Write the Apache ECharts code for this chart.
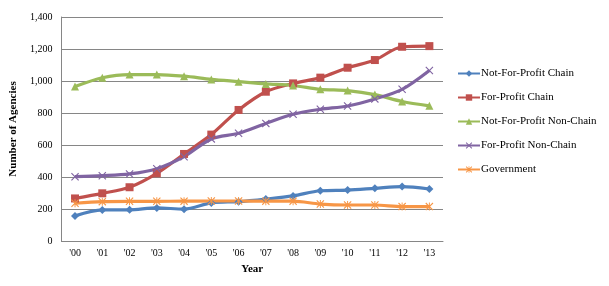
<!DOCTYPE html>
<html>
<head>
<meta charset="utf-8">
<script src="https://cdn.jsdelivr.net/npm/echarts@6/dist/echarts.min.js"></script>
<style>
  html, body { margin: 0; padding: 0; background: #fff; }
  #chart { width: 609px; height: 286px; }
</style>
</head>
<body>
<div id="chart"></div>
<script>
// years on the x axis
var years = ["'00", "'01", "'02", "'03", "'04", "'05", "'06", "'07", "'08", "'09", "'10", "'11", "'12", "'13"];

// agency counts
var nfpChain    = [157, 194, 195, 207, 199, 238, 246, 262, 282, 314, 318, 329, 340, 325];
var fpChain     = [266, 298, 336, 423, 544, 665, 819, 933, 985, 1021, 1083, 1131, 1214, 1218];
var nfpNonChain = [965, 1020, 1040, 1040, 1030, 1010, 996, 982, 972, 948, 940, 915, 872, 845];
var fpNonChain  = [402, 408, 419, 452, 527, 638, 673, 735, 792, 823, 844, 888, 948, 1066];
var government  = [236, 246, 248, 248, 249, 250, 250, 249, 249, 231, 225, 225, 215, 215];

var xMark = 'path://M0,1 L1,0 L5,4 L9,0 L10,1 L6,5 L10,9 L9,10 L5,6 L1,10 L0,9 L4,5 Z';
var starMark = 'path://M0,1 L1,0 L5,4 L9,0 L10,1 L6,5 L10,9 L9,10 L5,6 L1,10 L0,9 L4,5 Z M4.4,0 L5.6,0 L5.6,10 L4.4,10 Z';

function mkSeries(name, data, color, symbol, size) {
    return {
        name: name,
        type: 'line',
        data: data,
        smooth: 0.3,
        symbol: symbol,
        symbolSize: size,
        showAllSymbol: true,
        lineStyle: { color: color, width: 3.2 },
        itemStyle: { color: color },
        emphasis: { disabled: true }
    };
}

var chart = echarts.init(document.getElementById('chart'));
chart.setOption({
    animation: false,
    backgroundColor: '#ffffff',
    textStyle: { fontFamily: 'Liberation Serif' },
    grid: { left: 57, right: 166, top: 17, bottom: 45 },
    legend: {
        orient: 'vertical',
        left: 452,
        top: 63,
        itemWidth: 22,
        itemHeight: 8,
        itemGap: 13,
        textStyle: { fontFamily: 'Liberation Serif', fontSize: 11, color: '#000', padding: [0, 0, 0, -4] },
        data: ['Not-For-Profit Chain', 'For-Profit Chain', 'Not-For-Profit Non-Chain', 'For-Profit Non-Chain', 'Government']
    },
    xAxis: {
        type: 'category',
        data: years,
        boundaryGap: true,
        name: 'Year',
        nameLocation: 'middle',
        nameGap: 23,
        nameTextStyle: { fontFamily: 'Liberation Serif', fontWeight: 'bold', fontSize: 11, color: '#000' },
        axisLine: { lineStyle: { color: '#868686' } },
        axisTick: { show: false },
        axisLabel: { color: '#000', fontSize: 10, margin: 7, fontFamily: 'Liberation Serif' }
    },
    yAxis: {
        type: 'value',
        min: 0,
        max: 1400,
        interval: 200,
        name: 'Number of Agencies',
        nameLocation: 'middle',
        nameGap: 36,
        nameTextStyle: { fontFamily: 'Liberation Serif', fontWeight: 'bold', fontSize: 11, color: '#000' },
        axisLine: { show: true, lineStyle: { color: '#868686' } },
        axisTick: { show: false },
        splitLine: { lineStyle: { color: '#868686' } },
        axisLabel: {
            color: '#000', fontSize: 10, margin: 9, fontFamily: 'Liberation Serif',
            formatter: function (v) { return v.toLocaleString('en-US'); }
        }
    },
    series: [
        mkSeries('Not-For-Profit Chain', nfpChain, '#4F81BD', 'diamond', 8),
        mkSeries('For-Profit Chain', fpChain, '#C0504D', 'rect', 8),
        mkSeries('Not-For-Profit Non-Chain', nfpNonChain, '#9BBB59', 'triangle', 8),
        mkSeries('For-Profit Non-Chain', fpNonChain, '#8064A2', xMark, 8),
        mkSeries('Government', government, '#F79646', starMark, 8)
    ]
});
</script>
</body>
</html>
